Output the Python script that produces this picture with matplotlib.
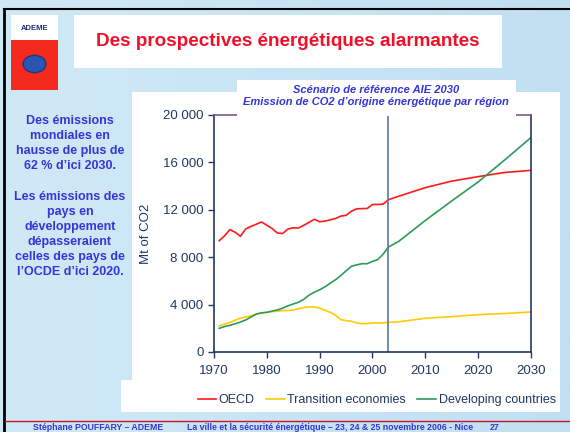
import numpy as np
import matplotlib.pyplot as plt
from matplotlib.patches import Rectangle, Circle

# data (Mt CO2)
hist_years = list(range(1971, 2004))
oecd_hist = [9400, 9800, 10330, 10100, 9770, 10380, 10600, 10780, 10970, 10700,
             10420, 10040, 10000, 10380, 10480, 10460, 10700, 10940, 11200, 10990,
             11050, 11150, 11270, 11470, 11530, 11880, 12080, 12100, 12110, 12450,
             12450, 12480, 12850]
trans_hist = [2200, 2350, 2500, 2680, 2850, 2950, 3050, 3200, 3300, 3350,
              3400, 3450, 3500, 3500, 3550, 3650, 3750, 3800, 3800, 3700,
              3520, 3350, 3100, 2730, 2650, 2600, 2450, 2400, 2400, 2450,
              2450, 2450, 2500]
dev_hist = [2000, 2150, 2250, 2380, 2530, 2700, 2950, 3200, 3300, 3350,
            3450, 3550, 3700, 3900, 4050, 4200, 4450, 4800, 5050, 5250,
            5500, 5800, 6100, 6450, 6850, 7230, 7350, 7450, 7450, 7650,
            7800, 8250, 8850]

proj_years = [2005, 2010, 2015, 2020, 2025, 2030]
oecd_proj = [13150, 13870, 14420, 14800, 15150, 15330]
trans_proj = [2550, 2850, 2980, 3150, 3250, 3380]
dev_proj = [9350, 11100, 12750, 14350, 16200, 18100]

years = hist_years + proj_years
oecd = oecd_hist + oecd_proj
trans = trans_hist + trans_proj
dev = dev_hist + dev_proj

xticks = [1970, 1980, 1990, 2000, 2010, 2020, 2030]
yticks = [0, 4000, 8000, 12000, 16000, 20000]
ytick_labels = ['0', '4 000', '8 000', '12 000', '16 000', '20 000']

W, H = 570, 432
navy = '#1f3864'
txtblue = '#3535d8'

plt.rcParams['font.family'] = ['Liberation Sans', 'DejaVu Sans']

fig = plt.figure(figsize=(5.7, 4.32), dpi=100)

def box(x0, y0, x1, y1, color, z=-5, **kw):
    # rectangle given in pixel coords from top-left
    r = Rectangle((x0 / W, 1 - y1 / H), (x1 - x0) / W, (y1 - y0) / H,
                  transform=fig.transFigure, facecolor=color, edgecolor='none',
                  zorder=z, **kw)
    fig.patches.append(r)
    return r

# slide background
grad = np.linspace(0, 1, 256).reshape(1, -1)
bg = fig.add_axes([0, 0, 1, 1], zorder=-20)
bg.imshow(grad, aspect='auto', cmap=plt.matplotlib.colors.LinearSegmentedColormap.from_list(
    'bg', ['#d0e9f6', '#c0e0f2']), extent=[0, 1, 0, 1])
bg.set_axis_off()

# frame lines
fig.add_artist(plt.Line2D([4 / W, 1], [1 - 9 / H, 1 - 9 / H], color='black', lw=1.5,
                          transform=fig.transFigure))
fig.add_artist(plt.Line2D([4 / W, 4 / W], [0, 1 - 9 / H], color='black', lw=2,
                          transform=fig.transFigure))
fig.add_artist(plt.Line2D([5 / W, 1], [1 - 421 / H, 1 - 421 / H], color='#d0102a', lw=1,
                          transform=fig.transFigure))

# logo
box(11, 15, 58, 40, 'white')
box(11, 40, 58, 90, '#f42a1e')
fig.text(34.5 / W, 1 - 28 / H, 'ADEME', color='#20307a', fontsize=5.5, fontweight='bold',
         ha='center', va='center')
fig.patches.append(Circle((34.5 / W, 1 - 64 / H), 0.02, transform=fig.transFigure,
                          facecolor='#2a55b0', edgecolor='#1a3a80', zorder=-4))

# title box
box(74, 15, 502, 68, 'white')
fig.text(288 / W, 1 - 42 / H, 'Des prospectives énergétiques alarmantes', color='#f0102a',
         fontsize=13.6, fontweight='bold', ha='center', va='center')

# chart area
box(132, 92, 560, 412, 'white')
box(121, 380, 560, 412, 'white')

ax = fig.add_axes([214 / W, 1 - 352 / H, (531 - 214) / W, (352 - 115) / H])
ax.plot(years, oecd, color='#ff1a1a', lw=1.2, label='OECD')
ax.plot(years, trans, color='#ffcc00', lw=1.2, label='Transition economies')
ax.plot(years, dev, color='#2e9a5a', lw=1.2, label='Developing countries')
ax.axvline(2003, color='#5a7898', lw=1.2)

ax.set_xlim(1970, 2030)
ax.set_ylim(0, 20000)
ax.set_xticks(xticks)
ax.set_yticks(yticks)
ax.set_yticklabels(ytick_labels)
ax.tick_params(colors=navy, labelsize=9.5, length=4, width=1)
ax.tick_params(axis='x', pad=5)
for s in ['left', 'bottom', 'right']:
    ax.spines[s].set_color(navy)
    ax.spines[s].set_linewidth(1.2)
ax.spines['top'].set_color('#7a5a80')
ax.spines['top'].set_linewidth(1.2)
ax.set_ylabel('Mt of CO2', color=navy, fontsize=9.5, labelpad=8)

ax.legend(loc='upper center', bbox_to_anchor=(0.513, -0.13), ncol=3, frameon=False,
          fontsize=9, handlelength=1.5, columnspacing=0.9, handletextpad=0.2,
          labelcolor=navy)

# chart title box
box(237, 80, 516, 116, 'white', z=5)
fig.text(376 / W, 1 - 90 / H, 'Scénario de référence AIE 2030', color=txtblue,
         fontsize=8, fontweight='bold', style='italic', ha='center', va='center', zorder=6)
fig.text(376 / W, 1 - 102 / H, "Emission de CO2 d’origine énergétique par région",
         color=txtblue, fontsize=8, fontweight='bold', style='italic', ha='center',
         va='center', zorder=6)

# side text
side = ['Des émissions', 'mondiales en', 'hausse de plus de', '62 % d’ici 2030.', '',
        'Les émissions des', 'pays en', 'développement', 'dépasseraient',
        'celles des pays de', 'l’OCDE d’ici 2020.']
for i, line in enumerate(side):
    fig.text(70 / W, 1 - (121 + i * 15.1) / H, line, color=txtblue, fontsize=9,
             fontweight='bold', ha='center', va='center')

# footer
fy = 1 - 428 / H
fig.text(33 / W, fy, 'Stéphane POUFFARY – ADEME', color=txtblue, fontsize=6.3,
         fontweight='bold', va='center')
fig.text(187 / W, fy, 'La ville et la sécurité énergétique – 23, 24 & 25 novembre 2006 - Nice',
         color=txtblue, fontsize=6.3, fontweight='bold', va='center')
fig.text(490 / W, fy, '27', color=txtblue, fontsize=6.3, fontweight='bold', va='center')

fig.savefig('out.png', dpi=100)
